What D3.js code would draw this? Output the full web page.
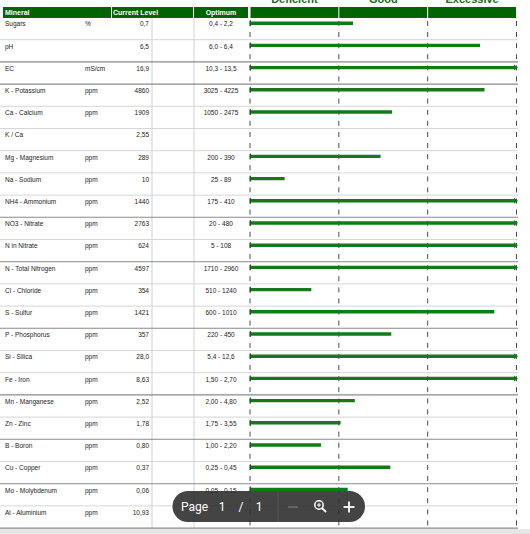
<!DOCTYPE html>
<html><head><meta charset="utf-8">
<script src="https://cdn.jsdelivr.net/npm/d3@7"></script>
<style>html,body{margin:0;padding:0;background:#fff;overflow:hidden}svg{display:block}</style>
</head><body>
<svg id="c" width="530" height="534"></svg>
<script>
const minerals = ["Sugars","pH","EC","K - Potassium","Ca - Calcium","K / Ca","Mg - Magnesium","Na - Sodium","NH4 - Ammonium","NO3 - Nitrate","N in Nitrate","N - Total Nitrogen","Cl - Chloride","S - Sulfur","P - Phosphorus","Si - Silica","Fe - Iron","Mn - Manganese","Zn - Zinc","B - Boron","Cu - Copper","Mo - Molybdenum","Al - Aluminium"];
const units = ["%","","mS/cm","ppm","ppm","","ppm","ppm","ppm","ppm","ppm","ppm","ppm","ppm","ppm","ppm","ppm","ppm","ppm","ppm","ppm","ppm","ppm"];
const current = ["0,7","6,5","16,9","4860","1909","2,55","289","10","1440","2763","624","4597","354","1421","357","28,0","8,63","2,52","1,78","0,80","0,37","0,06","10,93"];
const optimum = ["0,4 - 2,2","6,0 - 6,4","10,3 - 13,5","3025 - 4225","1050 - 2475","","200 - 390","25 - 89","175 - 410","20 - 480","5 - 108","1710 - 2960","510 - 1240","600 - 1010","220 - 450","5,4 - 12,6","1,50 - 2,70","2,00 - 4,80","1,75 - 3,55","1,00 - 2,20","0,25 - 0,45","0,05 - 0,15",""];
// bar position in zone units (0-1 deficient, 1-2 good, 2-3 excessive); null = no bar
const score = [1.16,2.59,3,2.64,1.60,null,1.47,0.39,3,3,3,3,0.69,2.75,1.59,3,3,1.18,1.02,0.80,1.58,1.10,null];
const zones = ["Deficient","Good","Excessive"];
const headers = ["Mineral","Current Level","Optimum"];
const darkLines = ["pH","EC","NH4 - Ammonium","N in Nitrate","S - Sulfur","Fe - Iron","Zn - Zinc","Cu - Copper","Al - Aluminium"];

const svg = d3.select("#c");
const font = "'Liberation Sans', Arial, sans-serif";
const green = "#006400";
const barGreen = "#15781a";

// bottom viewer background
svg.append("rect").attr("x",0).attr("y",529).attr("width",530).attr("height",5).attr("fill","#e6e6e6");

const rowH = 22.2, top0 = 17.5;
const y = d3.scaleBand().domain(minerals).range([top0, top0 + rowH*minerals.length]).paddingInner(0).paddingOuter(0);
const x = d3.scaleLinear().domain([0,3]).range([250, 516.5]);
const cy = m => y(m) + 6.5;

// header bands
const headerCells = [[3,111],[112,193],[194,248]];
headerCells.forEach((c,i)=>{
  svg.append("rect").attr("x",c[0]).attr("y",7).attr("width",c[1]-c[0]).attr("height",11).attr("fill",green);
});
zones.forEach((z,i)=>{
  const x0 = x(i), x1 = x(i+1);
  svg.append("rect").attr("x",x0+0.5).attr("y",7).attr("width",x1-x0-1).attr("height",11).attr("fill",green);
  svg.append("text").attr("x",(x0+x1)/2).attr("y",3).attr("text-anchor","middle")
    .attr("font-family",font).attr("font-weight","bold").attr("font-size",11).attr("fill","#2a5f2a").text(z);
});
const hx = [5,113,221];
headers.forEach((h,i)=>{
  svg.append("text").attr("x",hx[i]).attr("y",15.3).attr("text-anchor",i===2?"middle":"start")
    .attr("font-family",font).attr("font-weight","bold").attr("font-size",7).attr("fill","#fff").text(h);
});

// column dividers
[152,194].forEach(v=>{
  svg.append("line").attr("x1",v).attr("x2",v).attr("y1",18).attr("y2",528.5).attr("stroke","#d0d0d0").attr("stroke-width",1);
});

// row separator lines
minerals.forEach(m=>{
  const yy = y(m) + y.bandwidth();
  const dark = darkLines.includes(m);
  svg.append("line").attr("x1",0).attr("x2",518).attr("y1",yy).attr("y2",yy)
    .attr("stroke",dark?"#8a8a8a":"#d6d6d6").attr("stroke-width",dark?1.1:1);
});

// dashed zone boundaries (two dashes per row)
const bounds = [0,1,2,3];
minerals.forEach(m=>{
  const c = cy(m);
  bounds.forEach(b=>{
    [[c-3,c+2],[c+8,c+13]].forEach(s=>{
      svg.append("line").attr("x1",x(b)).attr("x2",x(b)).attr("y1",s[0]).attr("y2",s[1])
        .attr("stroke","#4a4a4a").attr("stroke-width",1);
    });
  });
});

// text columns
const g = svg.append("g").attr("font-family",font).attr("font-size",6.5).attr("fill","#222");
minerals.forEach((m,i)=>{
  const ty = cy(m) + 2.3;
  g.append("text").attr("x",5).attr("y",ty).text(m);
  g.append("text").attr("x",85).attr("y",ty).text(units[i]);
  g.append("text").attr("x",149).attr("y",ty).attr("text-anchor","end").text(current[i]);
  g.append("text").attr("x",221).attr("y",ty).attr("text-anchor","middle").text(optimum[i]);
});

// bars
minerals.forEach((m,i)=>{
  const s = score[i];
  if (s === null) return;
  const by = cy(m) - 0.8;
  const over = s >= 3;
  svg.append("line").attr("x1",x(0)).attr("x2",over ? x(3)-2 : x(s)).attr("y1",by).attr("y2",by)
    .attr("stroke",barGreen).attr("stroke-width",3.4);
  svg.append("line").attr("x1",x(0)+0.3).attr("x2",x(0)+0.3).attr("y1",by-3).attr("y2",by+3)
    .attr("stroke","#1d4a1d").attr("stroke-width",1);
  if (over) {
    const xe = x(3) + 1.5;
    svg.append("path").attr("d",`M${xe-4},${by-3}L${xe},${by}L${xe-4},${by+3}Z`).attr("fill",barGreen);
  }
});

// PDF viewer overlay
const ov = svg.append("g");
ov.append("rect").attr("x",172.5).attr("y",491).attr("width",192.5).attr("height",31).attr("rx",15.5)
  .attr("fill","#303030").attr("opacity",0.9);
const of = "'Roboto','Liberation Sans',sans-serif";
[["Page",194.5],["1",222],["/",241],["1",259]].forEach(t=>{
  ov.append("text").attr("x",t[1]).attr("y",511).attr("text-anchor","middle").attr("font-family",of)
    .attr("font-size",12).attr("fill","#fff").text(t[0]);
});
ov.append("line").attr("x1",278).attr("x2",278).attr("y1",491).attr("y2",522).attr("stroke","#555").attr("stroke-width",1);
ov.append("line").attr("x1",288).attr("x2",298).attr("y1",507).attr("y2",507).attr("stroke","#777").attr("stroke-width",1.3);
ov.append("circle").attr("cx",319).attr("cy",505).attr("r",4.2).attr("fill","none").attr("stroke","#fff").attr("stroke-width",1.5);
ov.append("line").attr("x1",322).attr("x2",326).attr("y1",508).attr("y2",512).attr("stroke","#fff").attr("stroke-width",1.8);
ov.append("line").attr("x1",317).attr("x2",321).attr("y1",505).attr("y2",505).attr("stroke","#fff").attr("stroke-width",1);
ov.append("line").attr("x1",319).attr("x2",319).attr("y1",503).attr("y2",507).attr("stroke","#fff").attr("stroke-width",1);
ov.append("line").attr("x1",343.5).attr("x2",354.5).attr("y1",507).attr("y2",507).attr("stroke","#fff").attr("stroke-width",1.8);
ov.append("line").attr("x1",349).attr("x2",349).attr("y1",501.5).attr("y2",512.5).attr("stroke","#fff").attr("stroke-width",1.8);
</script>
</body></html>
